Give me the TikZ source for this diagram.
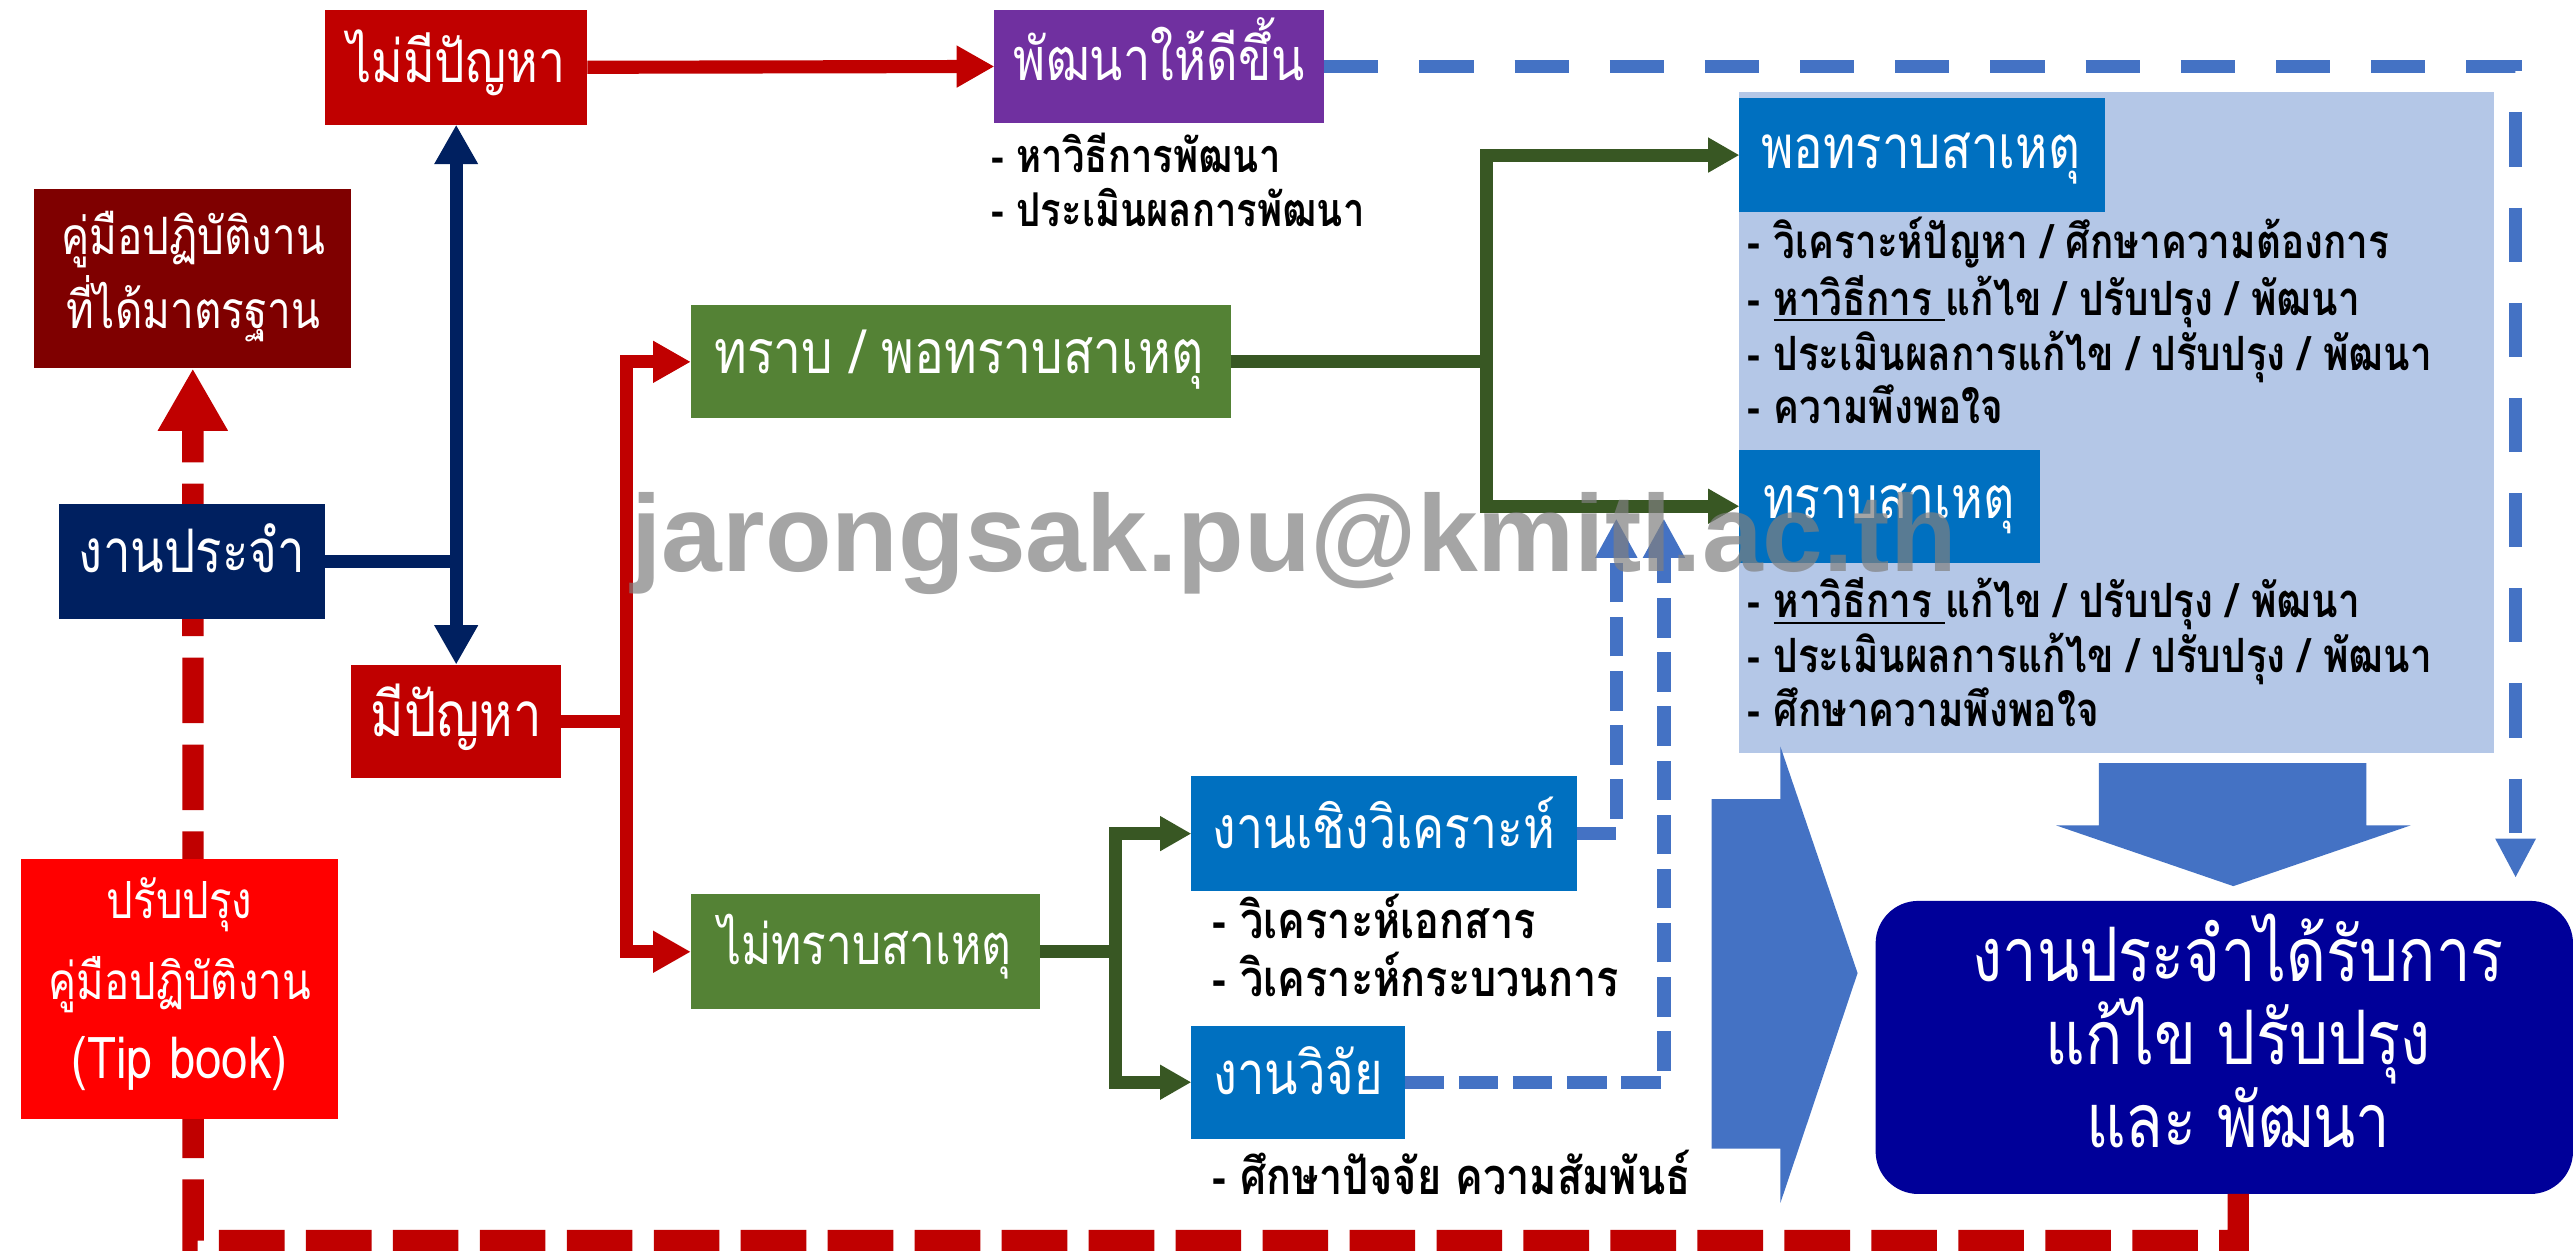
\documentclass[tikz,border=0pt]{standalone}
\usepackage{fontspec}
\usetikzlibrary{arrows.meta}
\newfontfamily\thai[Script=Thai, FakeStretch=0.82]{Loma}
\newfontfamily\wmfont{Liberation Sans}
\definecolor{cRed}{HTML}{C00000}
\definecolor{cPurple}{HTML}{7030A0}
\definecolor{cMaroon}{HTML}{7F0000}
\definecolor{cNavy}{HTML}{002060}
\definecolor{cBright}{HTML}{FF0000}
\definecolor{cGreen}{HTML}{548235}
\definecolor{cDGreen}{HTML}{385723}
\definecolor{cBlue}{HTML}{0070C0}
\definecolor{cPanel}{HTML}{B4C7E7}
\definecolor{cArrow}{HTML}{4472C4}
\definecolor{cResult}{HTML}{000099}
\newcommand{\fsz}[1]{\fontsize{#1}{#1}\selectfont}
\tikzset{
  bx/.style={inner sep=0pt, outer sep=0pt, anchor=north west, draw=none},
  wt/.style={text=white, anchor=base, inner sep=0pt, outer sep=0pt},
  ds/.style={text=black, anchor=base west, inner sep=0pt, outer sep=0pt},
  navyc/.style={draw=cNavy, line width=4pt, -{Triangle[width=12.5pt,length=12pt]}},
  redc/.style={draw=cRed, line width=4pt, -{Triangle[width=12pt,length=11.5pt]}},
  greenc/.style={draw=cDGreen, line width=4pt, -{Triangle[width=10pt,length=9.5pt]}},
  bluedash/.style={draw=cArrow, line width=4pt, dash pattern=on 12pt off 4.5pt, -{Triangle[width=12pt,length=12pt]}},
  bigbluedash/.style={draw=cArrow, line width=4pt, dash pattern=on 16.5pt off 12.5pt, -{Triangle[width=11.5pt,length=12pt]}},
  reddash/.style={draw=cRed, line width=6.5pt, dash pattern=on 20pt off 6.5pt, -{Triangle[width=20pt,length=19pt]}},
}
\begin{document}
\begin{tikzpicture}[x=0.5pt,y=-0.5pt]
\useasboundingbox (0,0) rectangle (1568,762);
\fill[white] (0,0) rectangle (1568,762);

% light panel
\node[bx, fill=cPanel, minimum width=230pt, minimum height=201.5pt] (panel) at (1060,56) {};

% boxes
\node[bx, fill=cRed, minimum width=80pt, minimum height=35pt] (nomiss) at (198,6) {};
\node[bx, fill=cPurple, minimum width=100.5pt, minimum height=34.5pt] (develop) at (606,6) {};
\node[bx, fill=cMaroon, minimum width=96.5pt, minimum height=54.75pt] (manual) at (21,115) {};
\node[bx, fill=cRed, minimum width=64pt, minimum height=34.5pt] (problem) at (214,405) {};
\node[bx, fill=cGreen, minimum width=164.5pt, minimum height=34.5pt] (known) at (421,186) {};
\node[bx, fill=cGreen, minimum width=106.5pt, minimum height=35pt] (unknown) at (421,545) {};
\node[bx, fill=cBlue, minimum width=117.5pt, minimum height=35pt] (analysis) at (726,473) {};
\node[bx, fill=cBlue, minimum width=65pt, minimum height=34.5pt] (research) at (726,625) {};
\node[bx, fill=cBlue, minimum width=111.5pt, minimum height=34.5pt] (partial) at (1060,60) {};
\node[bx, fill=cBlue, minimum width=91.5pt, minimum height=34.5pt] (cause) at (1060,274) {};
\node[bx, fill=cResult, rounded corners=13pt, minimum width=212.5pt, minimum height=89.3pt] (result) at (1143,549) {};

% block arrows
\fill[cArrow] (1043,487) -- (1085,487) -- (1085,455) -- (1132,593) -- (1085,733) -- (1085,700) -- (1043,700) -- cycle;
\fill[cArrow] (1279,465) -- (1442,465) -- (1442,503) -- (1469,503) -- (1361,540) -- (1253,503) -- (1279,503) -- cycle;

% coordinates for connector bends
\coordinate (rj) at (381.6,439.5);
\coordinate (gj) at (906,220.5);
\coordinate (gj2) at (680,580);
\coordinate (bd1) at (985,316);
\coordinate (bd2) at (1014,316);
\coordinate (bd3) at (1533,535);
\coordinate (bl) at (117.7,756);

% red dashed feedback loop (behind boxes on the left)
\draw[reddash] ([xshift=4.25pt]result.south) |- (bl) -- (manual.south);

\node[bx, fill=cBright, minimum width=96.5pt, minimum height=79.2pt] (improve) at (13,523.6) {};
\node[bx, fill=cNavy, minimum width=81pt, minimum height=35pt] (routine) at (36,307) {};

% connectors
\draw[navyc] (routine.east) -| (nomiss.south);
\draw[navyc] (routine.east) -| (problem.north);
\draw[redc] (nomiss.east) -- (develop.west);
\draw[redc] (problem.east) -- (rj) |- (known.west);
\draw[redc] (problem.east) -- (rj) |- (unknown.west);
\draw[greenc] (known.east) -- (gj) |- (partial.west);
\draw[greenc] (known.east) -- (gj) |- (cause.west);
\draw[greenc] (unknown.east) -- (gj2) |- (analysis.west);
\draw[greenc] (unknown.east) -- (gj2) |- (research.west);
\draw[bluedash] (analysis.east) -| (bd1);
\draw[bluedash] (research.east) -| (bd2);
\draw[bigbluedash] (develop.east) -| (bd3);

% box texts
\node[wt, font=\thai\fsz{17.9}] (t1) at (278,50) {ไม่มีปัญหา};
\node[wt, font=\thai\fsz{18.1}] (t2) at (706.5,48.8) {พัฒนาให้ดีขึ้น};
\node[wt, font=\thai\fsz{15.7}] (t3a) at (117.7,155) {คู่มือปฏิบัติงาน};
\node[wt, font=\thai\fsz{15.7}] (t3b) at (117.7,200) {ที่ได้มาตรฐาน};
\node[wt, font=\thai\fsz{18.3}] (t4) at (117,349) {งานประจำ};
\node[wt, font=\thai\fsz{18.9}] (t5) at (278,449) {มีปัญหา};
\node[wt, font=\thai\fsz{15.6}] (t6a) at (109.5,560) {ปรับปรุง};
\node[wt, font=\thai\fsz{15.6}] (t6b) at (109.5,609) {คู่มือปฏิบัติงาน};
\node[wt, font=\thai\fsz{17.6}] (t6c) at (109.5,657) {(Tip book)};
\node[wt, font=\thai\fsz{18.5}] (t7) at (584.5,227.5) {ทราบ / พอทราบสาเหตุ};
\node[wt, font=\thai\fsz{17.1}] (t8) at (527,588) {ไม่ทราบสาเหตุ};
\node[wt, font=\thai\fsz{17.9}] (t9) at (843.5,517) {งานเชิงวิเคราะห์};
\node[wt, font=\thai\fsz{18.2}] (t10) at (791,667) {งานวิจัย};
\node[wt, font=\thai\fsz{18.3}] (t11) at (1170.5,102.6) {พอทราบสาเหตุ};
\node[wt, font=\thai\fsz{17.9}] (t12) at (1151,315.8) {ทราบสาเหตุ};
\node[wt, font=\thai\fsz{22.9}] (t13a) at (1364,598) {งานประจำได้รับการ};
\node[wt, font=\thai\fsz{22.9}] (t13b) at (1364,649) {แก้ไข ปรับปรุง};
\node[wt, font=\thai\fsz{22.9}] (t13c) at (1364,699) {และ พัฒนา};

% descriptions
\begin{scope}[every node/.append style={ds, font=\thai\bfseries\fsz{14.4}}]
\node[font=\thai\bfseries\fsz{14.2}] (d1) at (604,105) {- หาวิธีการพัฒนา};
\node[font=\thai\bfseries\fsz{14.2}] (d2) at (604,138) {- ประเมินผลการพัฒนา};
\node (p1) at (1065,157.4) {- วิเคราะห์ปัญหา / ศึกษาความต้องการ};
\node (p2) at (1065,192) {- \underline{หาวิธีการ\ }แก้ไข / ปรับปรุง / พัฒนา};
\node (p3) at (1065,225.5) {- ประเมินผลการแก้ไข / ปรับปรุง / พัฒนา};
\node (p4) at (1065,258) {- ความพึงพอใจ};
\node (q1) at (1065,376.6) {- \underline{หาวิธีการ\ }แก้ไข / ปรับปรุง / พัฒนา};
\node (q2) at (1065,410) {- ประเมินผลการแก้ไข / ปรับปรุง / พัฒนา};
\node (q3) at (1065,443) {- ศึกษาความพึงพอใจ};
\node[font=\thai\bfseries\fsz{15.4}] (a1) at (739,572) {- วิเคราะห์เอกสาร};
\node[font=\thai\bfseries\fsz{15.4}] (a2) at (739,607.5) {- วิเคราะห์กระบวนการ};
\node[font=\thai\bfseries\fsz{15.4}] (r1) at (739,728) {- ศึกษาปัจจัย ความสัมพันธ์};
\end{scope}

% watermark
\node[anchor=base west, inner sep=0pt, text=gray, opacity=0.7, font=\wmfont\bfseries\fsz{33.25}] (wm) at (384.5,348.4) {jarongsak.pu@kmitl.ac.th};
\end{tikzpicture}
\end{document}
